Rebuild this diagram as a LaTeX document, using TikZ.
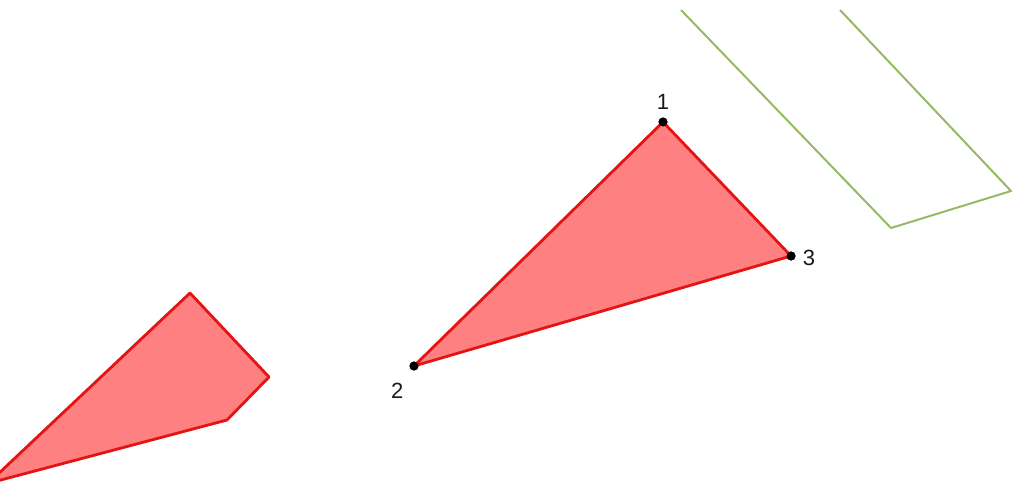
\documentclass[tikz,border=0pt]{standalone}
\usepackage{fontspec}
\setsansfont{Liberation Sans}
\usetikzlibrary{positioning}
\definecolor{areafill}{RGB}{255,128,128}
\definecolor{areaedge}{RGB}{228,20,20}
\definecolor{parcel}{RGB}{150,185,100}

\begin{document}
\begin{tikzpicture}[
    x=1pt, y=-1pt,
    area/.style={fill=areafill, draw=areaedge, line width=2.8pt, line join=round},
    outline/.style={draw=parcel, line width=2pt, line join=round},
    vertex/.style={circle, fill=black, inner sep=0pt, minimum size=9pt},
    vlbl/.style={font=\sffamily\fontsize{22}{22}\selectfont, text=black!90, inner sep=1pt}
  ]
  \useasboundingbox (0,0) rectangle (1014,482);
  \clip (0,0) rectangle (1014,482);

  % green parcel, upper right
  \coordinate (GA) at (681,10);
  \coordinate (GB) at (891,228);
  \coordinate (GC) at (1011,191);
  \coordinate (GD) at (840,10);
  \draw[outline] (GA) -- (GB) -- (GC) -- (GD);

  % partial polygon, lower left
  \coordinate (PA) at (190,293);
  \coordinate (PB) at (269,377);
  \coordinate (PC) at (227,420);
  \coordinate (PD) at (-3,481);
  \coordinate (PE) at (-3,475);
  \path[area] (PA) -- (PB) -- (PC) -- (PD) -- (PE) -- cycle;

  % triangle
  \node[vertex] (V1) at (663,122) {};
  \node[vertex] (V2) at (414,366) {};
  \node[vertex] (V3) at (791,256) {};
  \path[area] (V1.center) -- (V3.center) -- (V2.center) -- cycle;
  \node[vertex] at (V1) {};
  \node[vertex] at (V2) {};
  \node[vertex] at (V3) {};

  \node[vlbl, above=7pt of V1] (L1) {1};
  \node[vlbl, below left=13pt and 6pt of V2] (L2) {2};
  \node[vlbl, right=6pt of V3, yshift=-2pt] (L3) {3};
\end{tikzpicture}
\end{document}
